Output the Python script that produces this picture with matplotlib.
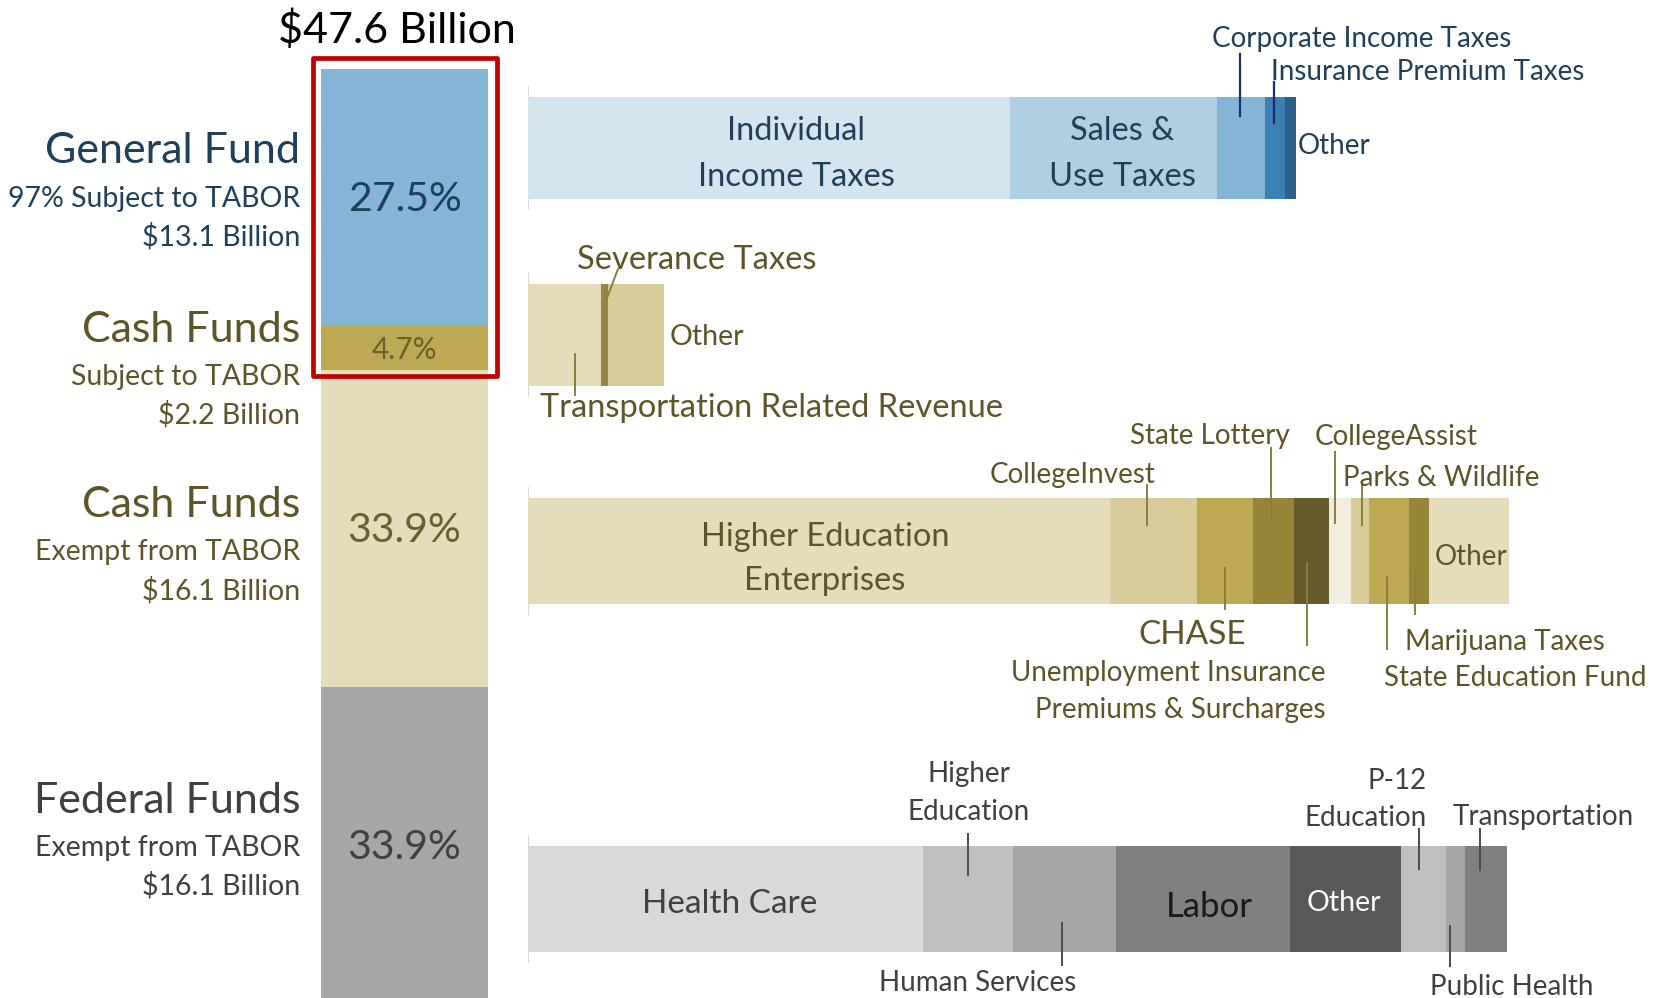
import matplotlib
matplotlib.use("Agg")
import matplotlib.pyplot as plt
from matplotlib.patches import Rectangle
from matplotlib.lines import Line2D
import numpy as np

plt.rcParams['font.family'] = ['Lato', 'DejaVu Sans']

# ---------------- data ----------------
total_label = "$47.6 Billion"
fund_pct = [27.5, 4.7, 33.9, 33.9]
fund_amount = [13.1, 2.2, 16.1, 16.1]

gf_labels = ["Individual Income Taxes", "Sales & Use Taxes", "Corporate Income Taxes",
             "Insurance Premium Taxes", "Other"]
gf_values = [7.91, 3.40, 0.79, 0.33, 0.18]

cs_labels = ["Transportation Related Revenue", "Severance Taxes", "Other"]
cs_values = [1.20, 0.11, 0.92]

ce_labels = ["Higher Education Enterprises", "CollegeInvest", "CHASE", "State Lottery",
             "Unemployment Insurance Premiums & Surcharges", "CollegeAssist",
             "Parks & Wildlife", "State Education Fund", "Marijuana Taxes", "Other"]
ce_values = [9.56, 1.43, 0.92, 0.67, 0.57, 0.36, 0.30, 0.66, 0.33, 1.31]

ff_labels = ["Health Care", "Higher Education", "Human Services", "Labor", "Other",
             "P-12 Education", "Public Health", "Transportation"]
ff_values = [6.49, 1.48, 1.69, 2.86, 1.82, 0.74, 0.31, 0.69]

# ---------------- styles ----------------
W, H = 1661, 998
BLUE_T = "#1F3F5A"
OLIVE_T = "#5E5428"
GREY_T = "#404040"
fund_colors = ["#84B4D6", "#BDA954", "#E5DCBA", "#A6A6A6"]
gf_colors = ["#D5E5F0", "#AFCFE3", "#84B4D6", "#3D80B3", "#2E6187"]
cs_colors = ["#E5DCBA", "#968744", "#D8CC98"]
ce_colors = ["#E5DCBA", "#D8CC98", "#BDA954", "#968539", "#645A2A", "#F2EEDE",
             "#D8CC98", "#BDA954", "#968539", "#E5DCBA"]
ff_colors = ["#D9D9D9", "#BFBFBF", "#A6A6A6", "#808080", "#595959", "#BFBFBF",
             "#A6A6A6", "#808080"]

BIG = 31      # fund names / title
SUB = 20.5    # fund sub lines
INB = 23.5    # labels inside bars
SML = 20      # callout labels
TXT_DY = 3    # small downward shift for text baseline matching

fig = plt.figure(figsize=(W / 100, H / 100), dpi=100)

def fx(x):
    return x / W

def fy(y):
    return 1 - y / H

def ftext(x, y, s, size, color, ha="center", va="center", **kw):
    fig.text(fx(x), fy(y + TXT_DY), s, fontsize=size, color=color, ha=ha, va=va, **kw)

def fline(x0, y0, x1, y1, color, lw=1.5):
    fig.add_artist(Line2D([fx(x0), fx(x1)], [fy(y0), fy(y1)], color=color, lw=lw,
                          transform=fig.transFigure))

# ---------------- left stacked bar ----------------
bar_top_px, px_per_pct = 69, 9.345
ax_l = fig.add_axes([fx(321), 0, (488 - 321) / W, 1])
ax_l.set_xlim(0, 1)
ax_l.set_ylim((H - bar_top_px) / px_per_pct, -bar_top_px / px_per_pct)
ax_l.axis("off")
bottoms = np.concatenate([[0], np.cumsum(fund_pct)[:-1]])
ax_l.bar(0.5, fund_pct, bottom=bottoms, width=1.0, color=fund_colors, linewidth=0)
pct_colors = [BLUE_T, "#6B5F2C", "#6B5F2C", GREY_T]
pct_sizes = [29.5, 21.5, 29.5, 29.5]
for b, p, c, s in zip(bottoms, fund_pct, pct_colors, pct_sizes):
    ax_l.text(0.5, b + p / 2 + 0.25, f"{p}%", ha="center", va="center", color=c,
              fontsize=s)

# red outline around TABOR-subject revenue
box_bottom = fund_pct[0] + fund_pct[1] + 0.65
ax_l.add_patch(Rectangle((-0.045, -1.23), 1.096, box_bottom + 1.23, fill=False,
                         edgecolor="#C00000", lw=3.4, joinstyle="round", clip_on=False))

ftext(397, 27, total_label, BIG, "black")

# left-hand fund labels
lab_x = 300
ftext(lab_x, 148, "General Fund", BIG, BLUE_T, ha="right")
ftext(lab_x, 196, "97% Subject to TABOR", SUB, BLUE_T, ha="right")
ftext(lab_x, 234, f"${fund_amount[0]} Billion", SUB, BLUE_T, ha="right")

ftext(lab_x, 327, "Cash Funds", BIG, OLIVE_T, ha="right")
ftext(lab_x, 374, "Subject to TABOR", SUB, OLIVE_T, ha="right")
ftext(lab_x, 412, f"${fund_amount[1]} Billion", SUB, OLIVE_T, ha="right")

ftext(lab_x, 502, "Cash Funds", BIG, OLIVE_T, ha="right")
ftext(lab_x, 549, "Exempt from TABOR", SUB, OLIVE_T, ha="right")
ftext(lab_x, 588, f"${fund_amount[2]} Billion", SUB, OLIVE_T, ha="right")

ftext(lab_x, 798, "Federal Funds", BIG, GREY_T, ha="right")
ftext(lab_x, 845, "Exempt from TABOR", SUB, GREY_T, ha="right")
ftext(lab_x, 883, f"${fund_amount[3]} Billion", SUB, GREY_T, ha="right")

# ---------------- right breakdown bars ----------------
x0_px, px_per_b = 528, 60.9
ax_r = fig.add_axes([fx(x0_px), 0, (W - x0_px) / W, 1])
ax_r.set_xlim(0, (W - x0_px) / px_per_b)
ax_r.set_ylim(H, 0)
ax_r.axis("off")

rows = [(gf_values, gf_colors, 97, 199),
        (cs_values, cs_colors, 284, 386),
        (ce_values, ce_colors, 498, 604),
        (ff_values, ff_colors, 846, 952)]
for vals, cols, top, bot in rows:
    lefts = np.concatenate([[0], np.cumsum(vals)[:-1]])
    ax_r.barh((top + bot) / 2, vals, left=lefts, height=bot - top, color=cols,
              linewidth=0)
    ax_r.plot([0, 0], [top - 10, bot + 10], color="#D9D9D9", lw=1.6, zorder=0.5)

# General Fund labels
ftext(796, 128, "Individual", INB, BLUE_T)
ftext(796, 174, "Income Taxes", INB, BLUE_T)
ftext(1122, 128, "Sales &", INB, BLUE_T)
ftext(1122, 174, "Use Taxes", INB, BLUE_T)
ftext(1212, 36, "Corporate Income Taxes", SML, BLUE_T, ha="left")
fline(1240, 54, 1240, 116, "#1B2F66", 1.6)
ftext(1271, 69, "Insurance Premium Taxes", SML, BLUE_T, ha="left")
fline(1274, 82, 1274, 123, "#1B2F66", 1.6)
ftext(1298, 143, "Other", SML, BLUE_T, ha="left")

# Cash funds subject labels
OL = "#8C7D3E"
ftext(577, 257, "Severance Taxes", INB, OLIVE_T, ha="left")
fline(618, 269, 607, 298, OL, 1.4)
ftext(670, 334, "Other", 20.5, OLIVE_T, ha="left")
ftext(540, 405, "Transportation Related Revenue", INB, OLIVE_T, ha="left")
fline(575, 354, 575, 395, OL, 1.4)

# Cash funds exempt labels
ftext(825, 534, "Higher Education", INB, OLIVE_T)
ftext(825, 578, "Enterprises", INB, OLIVE_T)
ftext(1073, 472, "CollegeInvest", SML, OLIVE_T)
fline(1147, 485, 1147, 525, OL, 1.4)
ftext(1210, 433, "State Lottery", SML, OLIVE_T)
fline(1271, 448, 1271, 519, OL, 1.4)
ftext(1396, 434, "CollegeAssist", SML, OLIVE_T)
fline(1335, 452, 1335, 523, OL, 1.4)
ftext(1343, 475, "Parks & Wildlife", SML, OLIVE_T, ha="left")
fline(1362, 483, 1362, 525, OL, 1.4)
ftext(1435, 554, "Other", SML, OLIVE_T, ha="left")
ftext(1192, 632, "CHASE", 24, OLIVE_T)
fline(1225, 568, 1225, 609, OL, 1.4)
ftext(1326, 670, "Unemployment Insurance", SML, OLIVE_T, ha="right")
ftext(1326, 707, "Premiums & Surcharges", SML, OLIVE_T, ha="right")
fline(1307, 563, 1307, 645, OL, 1.4)
ftext(1405, 639, "Marijuana Taxes", SML, OLIVE_T, ha="left")
fline(1415, 574, 1415, 614, OL, 1.4)
ftext(1384, 675, "State Education Fund", SML, OLIVE_T, ha="left")
fline(1387, 577, 1387, 649, OL, 1.4)

# Federal funds labels
GL = "#4A4A4A"
ftext(730, 901, "Health Care", 24, GREY_T)
ftext(969, 771, "Higher", SML, GREY_T)
ftext(969, 809, "Education", SML, GREY_T)
fline(968, 834, 968, 875, GL, 1.4)
ftext(978, 980, "Human Services", SML, GREY_T)
fline(1062, 923, 1062, 965, GL, 1.4)
ftext(1209, 904, "Labor", 25, "#1A1A1A")
ftext(1344, 900, "Other", 20.5, "white")
ftext(1427, 778, "P-12", SML, GREY_T, ha="right")
ftext(1427, 815, "Education", SML, GREY_T, ha="right")
fline(1419, 829, 1419, 869, GL, 1.4)
ftext(1453, 814, "Transportation", SML, GREY_T, ha="left")
fline(1480, 829, 1480, 870, GL, 1.4)
ftext(1430, 984, "Public Health", SML, GREY_T, ha="left")
fline(1450, 926, 1450, 966, GL, 1.4)

fig.savefig("out.png", dpi=100, facecolor="white")
